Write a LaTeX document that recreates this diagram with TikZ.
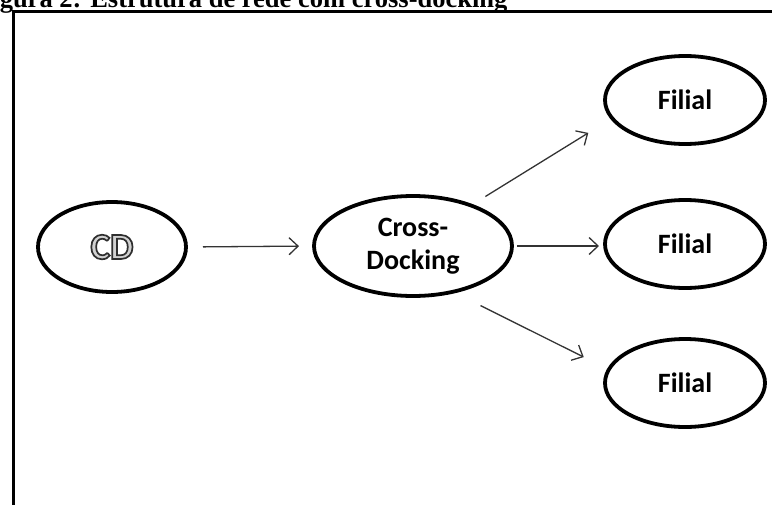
\documentclass[tikz,border=0pt]{standalone}
\usepackage{fontspec}
\usetikzlibrary{shapes.geometric,arrows.meta}
\newfontfamily\calfont{Carlito}
\newfontfamily\titlefont{Liberation Serif}
% hollow lettering: fill light grey, stroke dark grey
\newcommand\hollowtext[1]{%
  \special{pdf:literal direct 2 Tr 1.7 w 0.18 G 0.82 g}#1%
  \special{pdf:literal direct 0 Tr 0 G 0 g}}

\begin{document}
\begin{tikzpicture}[x=1pt,y=-1pt,
  place/.style={ellipse, draw=black, line width=3.8pt, inner sep=0pt,
    outer sep=0pt, fill=white, align=center,
    font=\calfont\bfseries\fontsize{28}{33}\selectfont},
  filial/.style={place, minimum width=160pt, minimum height=88pt},
  flow/.style={draw=black!80, line width=1.3pt,
    -{Straight Barb[length=9pt,width=17pt,line width=1.3pt]}}
]
\useasboundingbox (0,0) rectangle (772,504);
\clip (0,0) rectangle (772,504);

% caption above the frame
\node[anchor=base west, inner sep=0pt, text=black,
      font=\titlefont\bfseries\fontsize{26.5}{30}\selectfont]
  (caption) at (-24,7.5) {Figura 2: Estrutura de rede com cross-docking};

% outer frame
\draw[line width=3pt] (13.5,11.5) rectangle (800,540);

% network nodes
\node[place, minimum width=148pt, minimum height=90pt,
      font=\calfont\bfseries\fontsize{37}{37}\selectfont]
  (cd) at (112,247) {\hollowtext{CD}};
\node[place, minimum width=198pt, minimum height=100pt]
  (cross) at (413,246) {Cross-\\Docking};
\node[filial] (f1) at (685,100) {Filial};
\node[filial] (f2) at (685,244) {Filial};
\node[filial] (f3) at (685,383) {Filial};

% flows
\draw[flow, shorten <=17pt, shorten >=15pt] (cd.east) -- (cross.west);
\draw[flow, shorten <=17pt, shorten >=28pt] (cross.35) -- (f1.194);
\draw[flow, shorten <=5pt, shorten >=6pt] (cross.east) -- (cross.east -| f2.west);
\draw[flow, shorten <=31pt, shorten >=28pt] (cross.-49) -- (f3.170);
\end{tikzpicture}
\end{document}
